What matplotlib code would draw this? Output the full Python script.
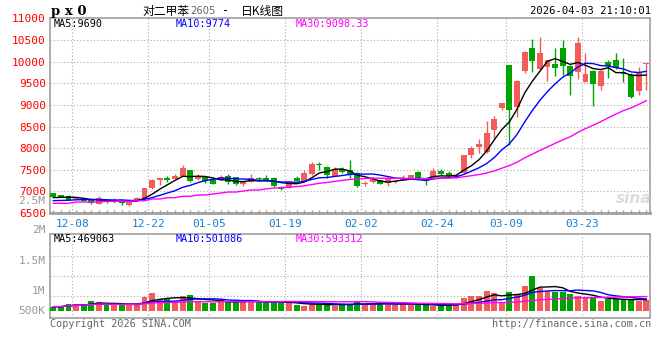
import matplotlib
matplotlib.use("Agg")
import matplotlib.pyplot as plt
import numpy as np
import pandas as pd

# ---------------- data ----------------
opens = [6955, 6909, 6893, 6824, 6840, 6794, 6715, 6800, 6761, 6761,
         6685, 6777, 6824, 7071, 7256, 7316, 7286, 7362, 7494, 7280,
         7340, 7286, 7263, 7362, 7332, 7163, 7224, 7316, 7316, 7316,
         7108, 7085, 7316, 7247, 7395, 7640, 7564, 7362, 7517, 7494,
         7418, 7163, 7210, 7263, 7186, 7210, 7263, 7302, 7455, 7316,
         7302, 7471, 7418, 7325, 7432, 7841, 8018, 7917, 8418, 8928,
         9922, 8958, 9790, 10322, 9822, 9882, 9945, 10322, 9906, 9753,
         9536, 9783, 9436, 9984, 10037, 9767, 9690, 9328, 9940]
highs = [6970, 6920, 6916, 6880, 6850, 6800, 6886, 6810, 6840, 6770,
         6770, 6870, 7080, 7275, 7310, 7363, 7400, 7610, 7500, 7395,
         7363, 7340, 7390, 7410, 7340, 7230, 7410, 7340, 7390, 7340,
         7115, 7240, 7363, 7500, 7680, 7686, 7580, 7564, 7560, 7725,
         7455, 7240, 7340, 7270, 7340, 7250, 7390, 7390, 7470, 7320,
         7540, 7520, 7470, 7390, 7850, 8050, 8204, 8626, 8743, 9050,
         9930, 9570, 10240, 10523, 10560, 10045, 10322, 10500, 9915, 10576,
         10192, 9800, 9806, 10037, 10192, 10091, 9730, 9882, 9970]
lows = [6860, 6860, 6790, 6815, 6775, 6715, 6710, 6740, 6724, 6678,
        6670, 6770, 6815, 7060, 7147, 7225, 7280, 7355, 7210, 7270,
        7200, 7170, 7255, 7180, 7155, 7120, 7215, 7240, 7230, 7100,
        7040, 7070, 7230, 7240, 7390, 7494, 7300, 7355, 7420, 7300,
        7108, 7130, 7200, 7170, 7130, 7190, 7255, 7295, 7280, 7150,
        7295, 7380, 7300, 7320, 7425, 7772, 7888, 7888, 8243, 8880,
        8072, 8726, 9729, 9767, 9815, 9552, 9674, 9700, 9228, 9600,
        9529, 8974, 9344, 9628, 9830, 9536, 9166, 9228, 9344]
closes = [6870, 6870, 6800, 6870, 6784, 6724, 6840, 6747, 6794, 6724,
          6761, 6854, 7071, 7263, 7302, 7270, 7355, 7547, 7240, 7340,
          7240, 7178, 7340, 7225, 7163, 7224, 7316, 7278, 7240, 7124,
          7055, 7224, 7240, 7432, 7626, 7610, 7379, 7517, 7455, 7394,
          7124, 7200, 7286, 7178, 7286, 7240, 7316, 7379, 7286, 7247,
          7480, 7401, 7355, 7379, 7841, 7996, 8095, 8357, 8666, 9043,
          8881, 9559, 10229, 10014, 10206, 10037, 9860, 9906, 9675, 10424,
          9707, 9489, 9783, 9906, 9845, 9714, 9189, 9744, 9958]
volumes = [180000, 180000, 290000, 290000, 290000, 410000, 370000, 250000, 250000, 250000,
           290000, 290000, 580000, 750000, 500000, 500000, 410000, 620000, 660000, 370000,
           330000, 330000, 460000, 410000, 370000, 370000, 410000, 370000, 370000, 370000,
           330000, 370000, 250000, 210000, 290000, 290000, 290000, 210000, 250000, 290000,
           410000, 290000, 290000, 290000, 330000, 250000, 330000, 250000, 250000, 250000,
           210000, 210000, 290000, 290000, 540000, 620000, 620000, 830000, 750000, 330000,
           790000, 710000, 1040000, 1460000, 950000, 830000, 790000, 790000, 710000, 620000,
           600000, 550000, 400000, 480000, 500000, 500000, 480000, 420000, 440000]
# moving-average values before a full window exists
ma5_head = [6855, 6862, 6866, 6862]
ma10_head = [6785, 6790, 6795, 6805, 6812, 6815, 6812, 6806, 6800]
ma30_head = [6724, 6724, 6724, 6754, 6754, 6754, 6754, 6770, 6770, 6770,
             6770, 6784, 6784, 6824, 6824, 6854, 6854, 6886, 6886, 6916,
             6916, 6939, 6962, 6985, 6985, 7009, 7032, 7032, 7055]

x_labels = ['12-08', '12-22', '01-05', '01-19', '02-02', '02-24', '03-09', '03-23']
x_label_idx = [2, 12, 20, 30, 40, 50, 59, 69]
price_ticks = [6500, 7000, 7500, 8000, 8500, 9000, 9500, 10000, 10500, 11000]
vol_labels = ['2M', '1.5M', '1M', '500K']
price_ma_text = ['MA5:9690', 'MA10:9774', 'MA30:9098.33']
vol_ma_text = ['MA5:469063', 'MA10:501086', 'MA30:593312']
title_parts = ['对二甲苯', '2605', '-', '日K线图']
stamp = '2026-04-03 21:10:01'

# ---------------- style ----------------
RED = '#f45b5b'
GREEN = '#00a300'
MA_COLORS = ['#000000', '#0000ff', '#ff00ff']
GRID = '#aaaaaa'
SPINE = '#a0a0a0'
plt.rcParams['font.family'] = ['DejaVu Sans Mono']
CJK = ['Noto Sans CJK SC', 'DejaVu Sans']

W, H = 660, 360
fig = plt.figure(figsize=(W / 100, H / 100), dpi=100)
fig.patch.set_facecolor('white')


def fx(px):
    return px / W


def fy(py):
    return 1 - py / H


ax = fig.add_axes([fx(50), fy(213), 600 / W, (213 - 18.4) / H])
av = fig.add_axes([fx(50), fy(318), 600 / W, 84 / H])

n = len(closes)
xi = np.arange(n)
o = np.array(opens, float)
c = np.array(closes, float)
h = np.array(highs, float)
l = np.array(lows, float)
v = np.array(volumes, float)
up = c >= o
cols = np.where(up, RED, GREEN)

step = 7.603
x0 = -3.3 / step
x1 = (n - 1) + 3.7 / step

for a in (ax, av):
    a.set_xlim(x0, x1)
    for s in a.spines.values():
        s.set_color(SPINE)
        s.set_linewidth(1.2)
    for t in x_label_idx:
        a.axvline(t + 0.5, color=GRID, lw=0.8, ls=(0, (1, 2)), zorder=1)

# candles
ax.vlines(xi, l, h, colors=cols, lw=1, zorder=3)
ax.bar(xi, np.maximum(np.abs(c - o), 18), bottom=np.minimum(o, c), width=0.78,
       color=cols, linewidth=0, zorder=4)

# moving averages
cs = pd.Series(c)
ma5 = cs.rolling(5).mean().values
ma10 = cs.rolling(10).mean().values
ma30 = cs.rolling(30).mean().values
ma5[:len(ma5_head)] = ma5_head
ma10[:len(ma10_head)] = ma10_head
ma30[:len(ma30_head)] = ma30_head
for m, col in zip((ma5, ma10, ma30), MA_COLORS):
    ax.plot(xi, m, color=col, lw=1.0, zorder=5)

ax.set_ylim(price_ticks[0], price_ticks[-1])
for pv in price_ticks[1:-1]:
    ax.axhline(pv, color=GRID, lw=0.8, ls=(0, (1, 2)), zorder=1)
ax.set_yticks(price_ticks)
ax.set_yticklabels([str(p) for p in price_ticks])
ax.tick_params(axis='y', length=0, pad=3, labelcolor='#ff0000', labelsize=8)
ax.set_xticks([t + 0.5 for t in x_label_idx])
ax.set_xticklabels(x_labels)
ax.tick_params(axis='x', which='major', length=0, pad=4, labelcolor='#1a7fd0', labelsize=8)
ax.set_xticks(xi, minor=True)
ax.tick_params(axis='x', which='minor', direction='in', length=2.5, width=1, color=SPINE)
ax.spines['bottom'].set_linewidth(2)

# volume
av.bar(xi, v, width=0.78, color=cols, linewidth=0, zorder=3)
vs = pd.Series(v)
for win, col in zip((5, 10, 30), MA_COLORS):
    av.plot(xi, vs.rolling(win, min_periods=1).mean().values, color=col, lw=1.0, zorder=4)
av.set_ylim(-7 / 24.1 * 1e6, 77 / 24.1 * 1e6)
for py in (255.7, 275.7, 295.7):
    f = (318 - py) / 84
    av.plot([0, 1], [f, f], transform=av.transAxes, color=GRID, lw=0.8, ls=(0, (1, 2)), zorder=1)
av.set_xticks([])
av.set_yticks([])

# texts
fig.text(fx(51), fy(11), 'p x 0', family='DejaVu Serif', fontsize=9.5, fontweight='bold', va='center', ha='left')
fig.text(fx(142), fy(11), title_parts[0], family=CJK, fontsize=8.5, va='center', ha='left')
fig.text(fx(190), fy(11.5), title_parts[1], family='DejaVu Sans', fontsize=7.2, color='#666666', va='center', ha='left')
fig.text(fx(226), fy(11), title_parts[2], fontsize=8.5, va='center', ha='center')
fig.text(fx(241), fy(11), title_parts[3], family=CJK, fontsize=8.5, va='center', ha='left')
fig.text(fx(651), fy(11.5), stamp, fontsize=7.6, va='center', ha='right')

for txt, col, px in zip(price_ma_text, MA_COLORS, (54, 175.5, 296)):
    fig.text(fx(px), fy(24), txt, color=col, fontsize=7.3, va='center', ha='left')
for txt, col, px in zip(vol_ma_text, MA_COLORS, (54, 175.5, 296)):
    fig.text(fx(px), fy(238.7), txt, color=col, fontsize=7.3, va='center', ha='left')

for txt, py in zip(vol_labels, (230.5, 260.7, 290.8, 311.2)):
    fig.text(fx(45.5), fy(py), txt, color='#999999', fontsize=8, va='center', ha='right')
fig.text(fx(45.5), fy(201), '2.5M', color='#999999', fontsize=8, va='center', ha='right')

fig.text(fx(50), fy(324), 'Copyright 2026 SINA.COM', color='#666666', fontsize=7.3, va='center', ha='left')
fig.text(fx(651), fy(324), 'http://finance.sina.com.cn', color='#666666', fontsize=7.3, va='center', ha='right')
fig.text(fx(634), fy(198), 'sina', family='DejaVu Sans', fontsize=11, fontweight='bold', style='italic',
         color='#dcdcdc', va='center', ha='center')

fig.savefig('out.png', dpi=100, facecolor='white')
